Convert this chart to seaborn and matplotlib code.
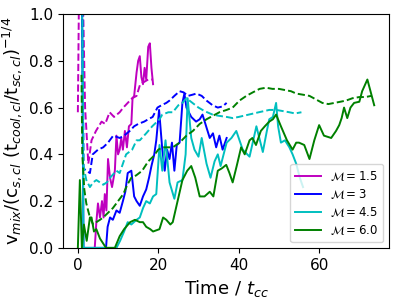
import numpy as np
import pandas as pd
import seaborn as sns
import matplotlib
matplotlib.use("Agg")
import matplotlib.pyplot as plt

# Mach numbers of the four runs
labels = [r"$\mathcal{M} = 1.5$", r"$\mathcal{M} = 3$", r"$\mathcal{M} = 4.5$", r"$\mathcal{M} = 6.0$"]
colors = ["m", "b", "c", "g"]

# instantaneous mixing velocity (solid lines)
t_m15 = [4.2, 4.6, 5.0, 5.5, 6.0, 6.4, 6.7, 7.1, 7.5, 8.0, 8.5, 9.2, 9.6, 10.0, 10.4, 10.8, 11.2,
         11.7, 12.2, 12.7, 13.3, 13.6, 14.0, 14.6, 15.0, 15.4, 15.8, 16.2, 16.6, 17.0, 17.5, 17.9,
         18.3, 18.7]
v_m15 = [0.0, 0.11, 0.19, 0.13, 0.20, 0.13, 0.23, 0.16, 0.38, 0.30, 0.26, 0.33, 0.48, 0.40, 0.42,
         0.47, 0.42, 0.50, 0.43, 0.52, 0.53, 0.64, 0.65, 0.75, 0.80, 0.82, 0.73, 0.70, 0.77, 0.72,
         0.86, 0.875, 0.77, 0.70]

t_m3 = [0.3, 0.9, 1.4, 7.0, 7.4, 8.0, 8.7, 9.6, 10.4, 11.2, 11.8, 12.4, 13.3, 14.0, 14.6, 15.4,
        16.2, 17.0, 17.7, 18.3, 19.0, 19.5, 20.2, 21.0, 21.6, 22.2, 22.8, 23.4, 24.0, 24.6, 25.3,
        26.0, 26.5, 27.0, 28.2, 29.4, 30.3, 31.0, 31.9, 32.8, 33.6, 34.4, 35.2, 36.0, 37.0]
v_m3 = [1.5, 1.5, 0.0, 0.0, 0.09, 0.13, 0.12, 0.16, 0.15, 0.20, 0.24, 0.32, 0.33, 0.22, 0.20,
        0.18, 0.22, 0.25, 0.30, 0.35, 0.40, 0.46, 0.59, 0.42, 0.33, 0.42, 0.38, 0.45, 0.33, 0.44,
        0.45, 0.62, 0.66, 0.60, 0.56, 0.54, 0.55, 0.57, 0.52, 0.47, 0.49, 0.43, 0.48, 0.42, 0.47]

t_m45 = [0.3, 0.9, 1.4, 9.6, 10.5, 11.5, 12.4, 13.3, 14.6, 15.4, 16.2, 17.0, 17.9, 18.7, 19.5,
         20.3, 21.0, 21.8, 22.8, 24.0, 24.8, 26.0, 26.8, 27.3, 28.2, 29.0, 30.0, 30.8, 32.0, 33.0,
         34.0, 34.8, 35.5, 37.0, 38.2, 39.4, 41.0, 42.7, 44.4, 46.0, 47.0, 47.6, 48.5, 49.3, 49.8,
         50.5, 51.5, 52.6, 53.4, 54.3, 55.2, 56.0]
v_m45 = [1.5, 1.5, 0.0, 0.0, 0.03, 0.07, 0.11, 0.10, 0.12, 0.13, 0.17, 0.20, 0.19, 0.22, 0.23,
         0.44, 0.33, 0.46, 0.28, 0.21, 0.28, 0.29, 0.40, 0.64, 0.47, 0.42, 0.39, 0.47, 0.36, 0.30,
         0.37, 0.40, 0.35, 0.45, 0.47, 0.50, 0.42, 0.39, 0.52, 0.41, 0.50, 0.55, 0.56, 0.62, 0.52,
         0.45, 0.46, 0.43, 0.40, 0.36, 0.30, 0.26]

t_m6 = [0.0, 0.5, 1.0, 1.5, 2.2, 3.0, 3.4, 4.0, 4.6, 5.5, 7.0, 9.2, 10.4, 11.5, 13.0, 14.2, 15.4,
        16.2, 17.0, 18.0, 18.7, 20.3, 21.2, 22.0, 23.0, 23.6, 24.8, 26.0, 27.2, 28.2, 29.2, 30.3,
        31.5, 32.8, 33.7, 34.8, 35.8, 36.9, 37.7, 38.5, 39.5, 40.6, 41.5, 42.7, 43.4, 44.3, 45.5,
        46.5, 47.6, 48.5, 49.3, 50.5, 52.0, 53.4, 54.3, 55.0, 56.3, 57.6, 58.8, 60.0, 61.2, 63.0,
        64.2, 65.0, 65.6, 66.2, 67.0, 67.8, 68.7, 70.0, 70.7, 72.0, 72.7, 73.7]
v_m6 = [0.0, 0.29, 0.0, 0.10, 0.03, 0.13, 0.13, 0.07, 0.08, 0.04, 0.0, 0.0, 0.05, 0.08, 0.11,
        0.12, 0.11, 0.11, 0.09, 0.08, 0.07, 0.08, 0.13, 0.12, 0.10, 0.11, 0.20, 0.29, 0.33, 0.35,
        0.30, 0.22, 0.22, 0.24, 0.22, 0.33, 0.34, 0.355, 0.32, 0.28, 0.35, 0.43, 0.40, 0.46, 0.47,
        0.44, 0.50, 0.52, 0.54, 0.55, 0.57, 0.52, 0.46, 0.42, 0.45, 0.45, 0.44, 0.38, 0.46, 0.525,
        0.48, 0.47, 0.50, 0.525, 0.555, 0.60, 0.555, 0.60, 0.62, 0.625, 0.67, 0.72, 0.675, 0.61]

# running mean (dashed lines)
tm_m15 = [0.0, 0.4, 1.0, 1.8, 2.6, 3.4, 4.5, 5.9, 6.8, 7.9, 9.0, 10.4, 11.3, 12.4, 13.5, 14.6,
          15.5, 16.5, 17.5, 18.7]
vm_m15 = [0.58, 1.3, 1.3, 0.6, 0.36, 0.46, 0.50, 0.54, 0.53, 0.58, 0.56, 0.58, 0.60, 0.62, 0.64,
          0.65, 0.70, 0.71, 0.72, 0.72]

tm_m3 = [1.0, 1.4, 2.1, 3.0, 3.7, 5.0, 6.3, 7.5, 8.8, 10.4, 11.5, 12.9, 14.0, 15.0, 16.5, 17.5,
         18.6, 19.8, 20.8, 22.0, 22.8, 24.0, 25.3, 26.3, 27.4, 28.5, 29.5, 30.8, 32.0, 33.5, 34.8,
         36.0, 37.0]
vm_m3 = [1.4, 0.34, 0.33, 0.32, 0.40, 0.42, 0.43, 0.45, 0.48, 0.47, 0.48, 0.50, 0.52, 0.53, 0.54,
         0.55, 0.56, 0.60, 0.61, 0.62, 0.63, 0.65, 0.67, 0.665, 0.65, 0.655, 0.66, 0.65, 0.63, 0.61,
         0.60, 0.605, 0.62]

tm_m45 = [1.0, 1.4, 2.1, 3.0, 3.8, 4.6, 5.5, 6.3, 7.2, 8.0, 9.6, 10.4, 12.0, 13.5, 14.6, 15.4,
          17.0, 18.5, 20.3, 21.0, 22.5, 23.6, 25.0, 26.0, 27.0, 28.5, 30.0, 31.5, 33.5, 35.0, 37.0,
          38.5, 40.0, 42.5, 45.0, 47.6, 49.3, 51.0, 52.6, 54.0, 55.6]
vm_m45 = [1.4, 0.35, 0.29, 0.26, 0.28, 0.29, 0.28, 0.27, 0.28, 0.30, 0.33, 0.32, 0.40, 0.42,
          0.46, 0.46, 0.49, 0.52, 0.55, 0.57, 0.58, 0.58, 0.61, 0.62, 0.64, 0.62, 0.60, 0.585, 0.57,
          0.565, 0.56, 0.555, 0.56, 0.57, 0.58, 0.59, 0.59, 0.585, 0.58, 0.575, 0.58]

tm_m6 = [0.9, 1.1, 1.6, 2.1, 3.0, 3.8, 4.6, 5.5, 6.3, 7.5, 8.7, 10.0, 11.3, 12.3, 13.3, 14.5,
         16.0, 17.5, 18.7, 20.0, 21.0, 22.5, 23.6, 25.3, 27.0, 28.6, 30.3, 32.0, 33.6, 35.2, 37.0,
         38.5, 40.2, 41.9, 43.5, 45.2, 46.8, 48.4, 50.0, 51.5, 53.0, 54.3, 56.0, 57.6, 59.2, 60.8,
         62.3, 63.8, 65.3, 66.7, 68.3, 70.0, 71.5, 73.0]
vm_m6 = [0.74, 0.40, 0.25, 0.19, 0.13, 0.10, 0.11, 0.12, 0.13, 0.15, 0.17, 0.20, 0.23, 0.27,
         0.30, 0.31, 0.33, 0.37, 0.39, 0.42, 0.43, 0.43, 0.43, 0.45, 0.48, 0.50, 0.53, 0.55, 0.565,
         0.58, 0.59, 0.60, 0.63, 0.65, 0.665, 0.68, 0.685, 0.68, 0.68, 0.675, 0.67, 0.66, 0.655,
         0.65, 0.635, 0.62, 0.615, 0.62, 0.625, 0.63, 0.64, 0.645, 0.645, 0.65]

solid = [(t_m15, v_m15), (t_m3, v_m3), (t_m45, v_m45), (t_m6, v_m6)]
dashed = [(tm_m15, vm_m15), (tm_m3, vm_m3), (tm_m45, vm_m45), (tm_m6, vm_m6)]

fig, ax = plt.subplots(figsize=(3.99, 2.99), dpi=100)

for (t, v), c, lab in zip(solid, colors, labels):
    sns.lineplot(x=t, y=v, color=c, lw=1.4, sort=False, estimator=None, label=lab, ax=ax)
for (t, v), c in zip(dashed, colors):
    sns.lineplot(x=t, y=v, color=c, lw=1.4, ls="--", sort=False, estimator=None, ax=ax)

ax.set_ylim(0, 1)
ax.set_xticks([0, 20, 40, 60])
ax.tick_params(labelsize=11)
ax.set_xlabel(r"Time / $t_{cc}$", fontsize=13)
ax.set_ylabel(r"v$_{mix}$/(c$_{s,cl}$ (t$_{cool,cl}$/t$_{sc,cl}$)$^{-1/4}$", fontsize=13)
ax.legend(loc="lower right", fontsize=8.5, handlelength=2.2, labelspacing=0.35)

plt.subplots_adjust(left=0.158, right=0.975, top=0.953, bottom=0.171)
plt.savefig("out.png", dpi=100)
